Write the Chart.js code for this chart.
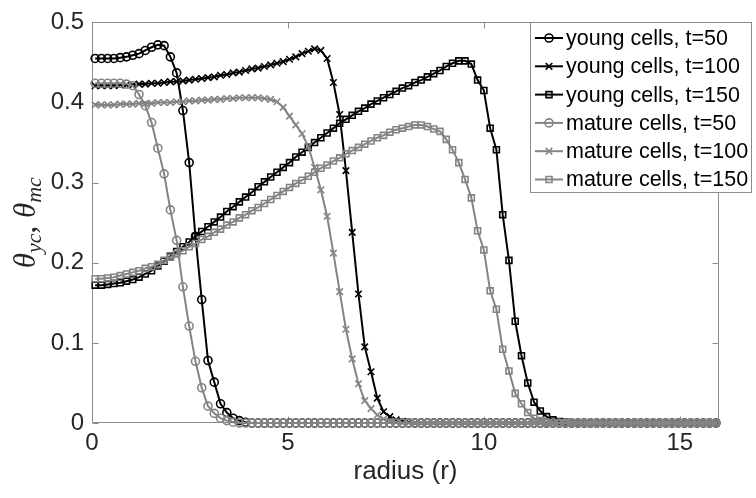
<!DOCTYPE html>
<html>
<head>
<meta charset="utf-8">
<script src="https://cdn.jsdelivr.net/npm/chart.js@4.4.0/dist/chart.umd.min.js"></script>
<style>
  html, body { margin: 0; padding: 0; background: #fff; }
  #wrap { width: 756px; height: 498px; }
</style>
</head>
<body>
<div id="wrap"><canvas id="c" width="756" height="498"></canvas></div>
<script>
// radial grid (cell centres)
const radius = [
  0.08, 0.24, 0.40, 0.56, 0.72, 0.88, 1.04, 1.20, 1.36, 1.52,
  1.68, 1.84, 2.00, 2.16, 2.32, 2.48, 2.64, 2.80, 2.96, 3.12,
  3.28, 3.44, 3.60, 3.76, 3.92, 4.08, 4.24, 4.40, 4.56, 4.72,
  4.88, 5.04, 5.20, 5.36, 5.52, 5.68, 5.84, 6.00, 6.16, 6.32,
  6.48, 6.64, 6.80, 6.96, 7.12, 7.28, 7.44, 7.60, 7.76, 7.92,
  8.08, 8.24, 8.40, 8.56, 8.72, 8.88, 9.04, 9.20, 9.36, 9.52,
  9.68, 9.84, 10.00, 10.16, 10.32, 10.48, 10.64, 10.80, 10.96, 11.12,
  11.28, 11.44, 11.60, 11.76, 11.92, 12.08, 12.24, 12.40, 12.56, 12.72,
  12.88, 13.04, 13.20, 13.36, 13.52, 13.68, 13.84, 14.00, 14.16, 14.32,
  14.48, 14.64, 14.80, 14.96, 15.12, 15.28, 15.44, 15.60, 15.76, 15.92
];

// young cell density
const youngT50 = [
  0.455, 0.455, 0.455, 0.455, 0.456, 0.457, 0.459, 0.461, 0.465, 0.469,
  0.472, 0.471, 0.457, 0.437, 0.390, 0.325, 0.233, 0.154, 0.078, 0.051,
  0.024, 0.013, 0.006, 0.003, 0.001, 0, 0, 0, 0, 0,
  0, 0, 0, 0, 0, 0, 0, 0, 0, 0,
  0, 0, 0, 0, 0, 0, 0, 0, 0, 0,
  0, 0, 0, 0, 0, 0, 0, 0, 0, 0,
  0, 0, 0, 0, 0, 0, 0, 0, 0, 0,
  0, 0, 0, 0, 0, 0, 0, 0, 0, 0,
  0, 0, 0, 0, 0, 0, 0, 0, 0, 0,
  0, 0, 0, 0, 0, 0, 0, 0, 0, 0
];
const youngT100 = [
  0.421, 0.421, 0.421, 0.421, 0.422, 0.422, 0.422, 0.423, 0.423, 0.424,
  0.424, 0.425, 0.426, 0.426, 0.427, 0.428, 0.429, 0.430, 0.431, 0.432,
  0.434, 0.435, 0.437, 0.438, 0.440, 0.442, 0.443, 0.445, 0.447, 0.449,
  0.451, 0.454, 0.457, 0.461, 0.464, 0.467, 0.465, 0.455, 0.425, 0.385,
  0.315, 0.238, 0.161, 0.095, 0.064, 0.031, 0.014, 0.008, 0.004, 0.002,
  0.001, 0, 0, 0, 0, 0, 0, 0, 0, 0,
  0, 0, 0, 0, 0, 0, 0, 0, 0, 0,
  0, 0, 0, 0, 0, 0, 0, 0, 0, 0,
  0, 0, 0, 0, 0, 0, 0, 0, 0, 0,
  0, 0, 0, 0, 0, 0, 0, 0, 0, 0
];
const youngT150 = [
  0.172, 0.172, 0.173, 0.174, 0.175, 0.177, 0.179, 0.182, 0.186, 0.190,
  0.196, 0.202, 0.208, 0.214, 0.220, 0.226, 0.233, 0.239, 0.245, 0.251,
  0.257, 0.264, 0.270, 0.276, 0.282, 0.288, 0.295, 0.301, 0.307, 0.313,
  0.319, 0.325, 0.332, 0.338, 0.344, 0.350, 0.356, 0.362, 0.368, 0.374,
  0.379, 0.384, 0.389, 0.393, 0.398, 0.402, 0.406, 0.410, 0.414, 0.418,
  0.421, 0.425, 0.428, 0.432, 0.436, 0.440, 0.445, 0.449, 0.452, 0.452,
  0.448, 0.428, 0.415, 0.368, 0.341, 0.260, 0.203, 0.127, 0.084, 0.050,
  0.026, 0.015, 0.008, 0.004, 0.002, 0.001, 0, 0, 0, 0,
  0, 0, 0, 0, 0, 0, 0, 0, 0, 0,
  0, 0, 0, 0, 0, 0, 0, 0, 0, 0
];

// mature cell density
const matureT50 = [
  0.424, 0.424, 0.424, 0.424, 0.424, 0.423, 0.421, 0.410, 0.396, 0.375,
  0.343, 0.311, 0.266, 0.228, 0.170, 0.121, 0.077, 0.044, 0.021, 0.012,
  0.006, 0.003, 0.001, 0, 0, 0, 0, 0, 0, 0,
  0, 0, 0, 0, 0, 0, 0, 0, 0, 0,
  0, 0, 0, 0, 0, 0, 0, 0, 0, 0,
  0, 0, 0, 0, 0, 0, 0, 0, 0, 0,
  0, 0, 0, 0, 0, 0, 0, 0, 0, 0,
  0, 0, 0, 0, 0, 0, 0, 0, 0, 0,
  0, 0, 0, 0, 0, 0, 0, 0, 0, 0,
  0, 0, 0, 0, 0, 0, 0, 0, 0, 0
];
const matureT100 = [
  0.397, 0.397, 0.397, 0.397, 0.398, 0.398, 0.398, 0.399, 0.399, 0.399,
  0.400, 0.400, 0.400, 0.401, 0.401, 0.402, 0.402, 0.403, 0.403, 0.404,
  0.404, 0.405, 0.405, 0.406, 0.406, 0.406, 0.406, 0.405, 0.404, 0.401,
  0.394, 0.383, 0.372, 0.361, 0.345, 0.319, 0.291, 0.258, 0.212, 0.164,
  0.117, 0.080, 0.049, 0.028, 0.018, 0.010, 0.005, 0.002, 0.001, 0,
  0, 0, 0, 0, 0, 0, 0, 0, 0, 0,
  0, 0, 0, 0, 0, 0, 0, 0, 0, 0,
  0, 0, 0, 0, 0, 0, 0, 0, 0, 0,
  0, 0, 0, 0, 0, 0, 0, 0, 0, 0,
  0, 0, 0, 0, 0, 0, 0, 0, 0, 0
];
const matureT150 = [
  0.180, 0.180, 0.181, 0.182, 0.184, 0.186, 0.188, 0.190, 0.193, 0.195,
  0.198, 0.203, 0.207, 0.211, 0.215, 0.220, 0.224, 0.229, 0.233, 0.238,
  0.242, 0.247, 0.251, 0.256, 0.260, 0.265, 0.269, 0.274, 0.279, 0.284,
  0.289, 0.294, 0.299, 0.303, 0.308, 0.313, 0.318, 0.322, 0.327, 0.331,
  0.336, 0.340, 0.344, 0.348, 0.352, 0.356, 0.359, 0.363, 0.366, 0.368,
  0.370, 0.372, 0.372, 0.370, 0.367, 0.364, 0.354, 0.341, 0.325, 0.304,
  0.281, 0.240, 0.216, 0.165, 0.142, 0.092, 0.065, 0.037, 0.024, 0.013,
  0.006, 0.003, 0.001, 0, 0, 0, 0, 0, 0, 0,
  0, 0, 0, 0, 0, 0, 0, 0, 0, 0,
  0, 0, 0, 0, 0, 0, 0, 0, 0, 0
];

const seriesLabels = [
  'young cells, t=50', 'young cells, t=100', 'young cells, t=150',
  'mature cells, t=50', 'mature cells, t=100', 'mature cells, t=150'
];
const xTicks = [0, 5, 10, 15];
const yTicks = [0, 0.1, 0.2, 0.3, 0.4, 0.5];

const BLACK = '#000000';
const GREY = '#848484';
const FRAME = '#8c8c8c';
const TICK_TEXT = '#262626';

const MARKER_RADIUS = { circle: 4, crossRot: 4.6, rect: 4.2 };

function series(label, values, color, marker, order) {
  return {
    label,
    data: values.map((v, i) => ({ x: radius[i], y: v })),
    borderColor: color,
    borderWidth: 2,
    pointStyle: marker,
    pointRadius: MARKER_RADIUS[marker],
    pointBorderWidth: 1.6,
    pointBorderColor: color,
    pointBackgroundColor: 'rgba(0,0,0,0)',
    tension: 0,
    clip: false,
    order
  };
}

const datasets = [
  series(seriesLabels[0], youngT50, BLACK, 'circle', 2),
  series(seriesLabels[1], youngT100, BLACK, 'crossRot', 2),
  series(seriesLabels[2], youngT150, BLACK, 'rect', 2),
  series(seriesLabels[3], matureT50, GREY, 'circle', 1),
  series(seriesLabels[4], matureT100, GREY, 'crossRot', 1),
  series(seriesLabels[5], matureT150, GREY, 'rect', 1)
];

// axes box with inward tick marks
const axesBox = {
  id: 'axesBox',
  beforeDatasetsDraw(chart) {
    const { ctx, chartArea: a, scales } = chart;
    const L = Math.round(a.left) + 0.5, R = Math.round(a.right) - 0.5;
    const T = Math.round(a.top) + 0.5, B = Math.round(a.bottom) - 0.5;
    ctx.save();
    ctx.strokeStyle = FRAME;
    ctx.lineWidth = 1;
    ctx.strokeRect(L, T, R - L, B - T);
    ctx.beginPath();
    xTicks.forEach(v => {
      const px = Math.round(scales.x.getPixelForValue(v)) + 0.5;
      ctx.moveTo(px, B); ctx.lineTo(px, B - 6);
      ctx.moveTo(px, T); ctx.lineTo(px, T + 6);
    });
    yTicks.forEach(v => {
      const py = Math.round(scales.y.getPixelForValue(v)) + 0.5;
      ctx.moveTo(L, py); ctx.lineTo(L + 6, py);
      ctx.moveTo(R, py); ctx.lineTo(R - 6, py);
    });
    ctx.stroke();
    ctx.restore();
  }
};

// y-axis title: theta_yc, theta_mc
const yTitle = {
  id: 'yTitle',
  afterDraw(chart) {
    const { ctx, chartArea: a } = chart;
    const big = 'italic 31px "Liberation Serif", "DejaVu Serif", serif';
    const small = 'italic 22px "Liberation Serif", "DejaVu Serif", serif';
    const comma = '31px "Liberation Serif", "DejaVu Serif", serif';
    const parts = [
      { t: '\u03B8', f: big, dy: 0 },
      { t: 'yc', f: small, dy: 6 },
      { t: ', ', f: comma, dy: 0 },
      { t: '\u03B8', f: big, dy: 0 },
      { t: 'mc', f: small, dy: 6 }
    ];
    ctx.save();
    ctx.fillStyle = TICK_TEXT;
    ctx.textBaseline = 'alphabetic';
    ctx.textAlign = 'left';
    let total = 0;
    parts.forEach(p => { ctx.font = p.f; p.w = ctx.measureText(p.t).width; total += p.w; });
    ctx.translate(35, (a.top + a.bottom) / 2);
    ctx.rotate(-Math.PI / 2);
    let x = -total / 2;
    parts.forEach(p => { ctx.font = p.f; ctx.fillText(p.t, x, p.dy); x += p.w; });
    ctx.restore();
  }
};

function marker(ctx, style, x, y, color) {
  ctx.strokeStyle = color;
  ctx.lineWidth = 1.6;
  ctx.beginPath();
  if (style === 'circle') {
    ctx.arc(x, y, 4, 0, Math.PI * 2);
  } else if (style === 'crossRot') {
    const d = 3.3;
    ctx.moveTo(x - d, y - d); ctx.lineTo(x + d, y + d);
    ctx.moveTo(x - d, y + d); ctx.lineTo(x + d, y - d);
  } else {
    ctx.rect(x - 3, y - 3, 6, 6);
  }
  ctx.stroke();
}

// legend panel in the upper-right corner
const legendPanel = {
  id: 'legendPanel',
  afterDraw(chart) {
    const { ctx } = chart;
    const L = 530, T = 22, R = 752, B = 193;
    ctx.save();
    ctx.fillStyle = '#ffffff';
    ctx.fillRect(L, T, R - L, B - T);
    ctx.strokeStyle = FRAME;
    ctx.lineWidth = 1;
    ctx.strokeRect(L + 0.5, T + 0.5, R - L - 1, B - T - 1);
    ctx.font = '21.5px "Liberation Sans", Arial, sans-serif';
    ctx.textBaseline = 'middle';
    ctx.textAlign = 'left';
    chart.data.datasets.forEach((ds, k) => {
      const y = 38 + k * 28.3;
      ctx.strokeStyle = ds.borderColor;
      ctx.lineWidth = 2;
      ctx.beginPath();
      ctx.moveTo(535, y); ctx.lineTo(563, y);
      ctx.stroke();
      marker(ctx, ds.pointStyle, 549, y, ds.borderColor);
      ctx.fillStyle = '#000';
      ctx.fillText(ds.label, 566, y + 1);
    });
    ctx.restore();
  }
};

const tickFont = { family: '"Liberation Sans", Arial, sans-serif', size: 24 };

new Chart(document.getElementById('c'), {
  type: 'line',
  data: { datasets },
  options: {
    responsive: false,
    animation: false,
    layout: { padding: { left: 0, right: 37, top: 18, bottom: 0 } },
    plugins: { legend: { display: false }, tooltip: { enabled: false } },
    scales: {
      x: {
        type: 'linear',
        min: 0,
        max: 16,
        afterBuildTicks: s => { s.ticks = xTicks.map(v => ({ value: v })); },
        afterFit: s => { s.height = 75; },
        grid: { display: false, drawTicks: false },
        border: { display: false },
        ticks: { font: tickFont, color: TICK_TEXT, padding: 6, maxRotation: 0 },
        title: {
          display: true,
          text: 'radius (r)',
          font: { family: '"Liberation Sans", Arial, sans-serif', size: 26 },
          color: TICK_TEXT,
          padding: { top: 4, bottom: 11 }
        }
      },
      y: {
        type: 'linear',
        min: 0,
        max: 0.5,
        afterBuildTicks: s => { s.ticks = yTicks.map(v => ({ value: v })); },
        afterFit: s => { s.width = 92; },
        grid: { display: false, drawTicks: false },
        border: { display: false },
        ticks: {
          font: tickFont,
          color: TICK_TEXT,
          padding: 8,
          callback: v => (v === 0 ? '0' : v.toFixed(1))
        }
      }
    }
  },
  plugins: [axesBox, yTitle, legendPanel]
});
</script>
</body>
</html>
